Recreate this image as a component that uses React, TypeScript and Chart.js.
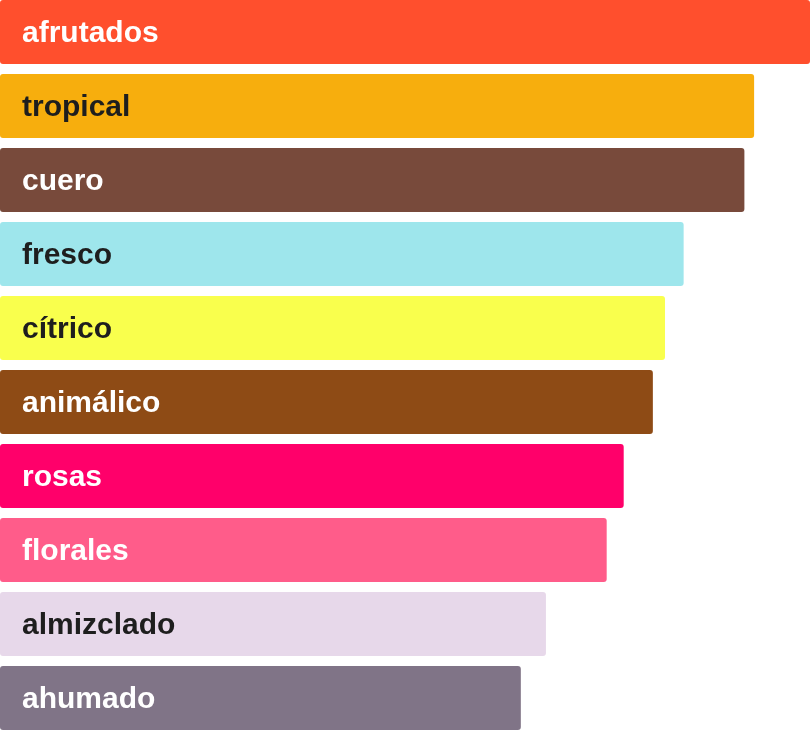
import React, { useEffect, useRef } from 'react';
import { Chart, registerables, Plugin } from 'chart.js';

Chart.register(...registerables);

const CATEGORIES = ['afrutados', 'tropical', 'cuero', 'fresco', 'cítrico', 'animálico', 'rosas', 'florales', 'almizclado', 'ahumado'];
const VALUES = [100, 93.1, 91.9, 84.4, 82.1, 80.6, 77.0, 74.9, 67.4, 64.3];
const BAR_COLORS = ['#FF4F2D', '#F7AE0D', '#784A3B', '#9EE6EC', '#F9FF4D', '#8E4B15', '#FF006A', '#FF5C8A', '#E7D8EA', '#807487'];
const LABEL_COLORS = ['#ffffff', '#1e1e1e', '#ffffff', '#1e1e1e', '#1e1e1e', '#ffffff', '#ffffff', '#ffffff', '#1e1e1e', '#ffffff'];

// writes the category name inside each bar
const insideLabels: Plugin<'bar'> = {
  id: 'insideLabels',
  afterDatasetsDraw(chart) {
    const { ctx } = chart;
    const meta = chart.getDatasetMeta(0);
    ctx.save();
    ctx.font = 'bold 30px "Liberation Sans", Arial, sans-serif';
    ctx.textBaseline = 'middle';
    ctx.textAlign = 'left';
    meta.data.forEach((bar, i) => {
      ctx.fillStyle = LABEL_COLORS[i];
      ctx.fillText(CATEGORIES[i], 22, bar.y + 2);
    });
    ctx.restore();
  },
};

export default function App() {
  const canvasRef = useRef<HTMLCanvasElement | null>(null);

  useEffect(() => {
    document.body.style.margin = '0';
    if (!canvasRef.current) return;
    const ctx = canvasRef.current.getContext('2d');
    if (!ctx) return;

    const chart = new Chart(ctx, {
      type: 'bar',
      data: {
        labels: CATEGORIES,
        datasets: [
          {
            data: VALUES,
            backgroundColor: BAR_COLORS,
            borderRadius: 3,
            borderSkipped: false,
            barPercentage: 1,
            categoryPercentage: 64 / 74,
          },
        ],
      },
      options: {
        indexAxis: 'y',
        animation: false,
        responsive: false,
        maintainAspectRatio: false,
        layout: { padding: 0 },
        scales: {
          x: { display: false, min: 0, max: 100 },
          y: { display: false },
        },
        plugins: { legend: { display: false }, tooltip: { enabled: false } },
      },
      plugins: [insideLabels],
    });

    return () => chart.destroy();
  }, []);

  // the plot runs 5px past the top and bottom edge, so the canvas is taller and clipped
  return (
    <div style={{ width: 810, height: 730, overflow: 'hidden' }}>
      <canvas ref={canvasRef} width={810} height={740} style={{ display: 'block', width: 810, height: 740, marginTop: -5 }} />
    </div>
  );
}
